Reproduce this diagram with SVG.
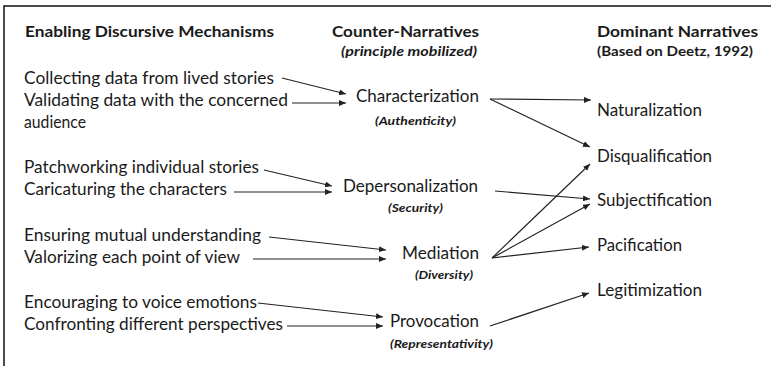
<svg xmlns="http://www.w3.org/2000/svg" width="771" height="366" viewBox="0 0 771 366">
<style>
text{font-family:Lato,"Open Sans","Liberation Sans",sans-serif;fill:#1a1a1a}
.h{font-size:16px;font-weight:bold}
.sh{font-size:13px;font-weight:bold}
.shi{font-size:13px;font-weight:bold;font-style:italic}
.t{font-size:16.5px}
.p{font-size:12px;font-weight:bold;font-style:italic}
.c{stroke:#222;stroke-width:1.2;fill:none;marker-end:url(#ah)}
.frame{stroke:#111;stroke-width:1.5;fill:none}
</style>
<defs>
<marker id="ah" markerUnits="userSpaceOnUse" markerWidth="8" markerHeight="6" refX="7" refY="3" orient="auto">
<path d="M0,0 L7,3 L0,6 z" fill="#222"/>
</marker>
</defs>
<rect width="771" height="366" fill="#fff"/>
<path class="frame" d="M4,366 V6 H771"/>
<g id="headers">
<text class="h" x="25" y="37" textLength="249" lengthAdjust="spacingAndGlyphs">Enabling Discursive Mechanisms</text>
<text class="h" x="332" y="37" textLength="147" lengthAdjust="spacingAndGlyphs">Counter-Narratives</text>
<text class="shi" x="341" y="56" textLength="136" lengthAdjust="spacingAndGlyphs">(principle mobilized)</text>
<text class="h" x="597" y="37" textLength="161" lengthAdjust="spacingAndGlyphs">Dominant Narratives</text>
<text class="sh" x="597" y="56" textLength="156" lengthAdjust="spacingAndGlyphs">(Based on Deetz, 1992)</text>
</g>
<g id="mech-collecting"><text class="t" x="24" y="84" textLength="250" lengthAdjust="spacingAndGlyphs">Collecting data from lived stories</text></g>
<g id="mech-validating"><text class="t" x="24" y="106" textLength="264" lengthAdjust="spacingAndGlyphs">Validating data with the concerned</text><text class="t" x="24" y="128" textLength="62" lengthAdjust="spacingAndGlyphs">audience</text></g>
<g id="mech-patchworking"><text class="t" x="24" y="173" textLength="235" lengthAdjust="spacingAndGlyphs">Patchworking individual stories</text></g>
<g id="mech-caricaturing"><text class="t" x="24" y="195" textLength="203" lengthAdjust="spacingAndGlyphs">Caricaturing the characters</text></g>
<g id="mech-ensuring"><text class="t" x="24" y="241" textLength="237" lengthAdjust="spacingAndGlyphs">Ensuring mutual understanding</text></g>
<g id="mech-valorizing"><text class="t" x="24" y="263" textLength="216" lengthAdjust="spacingAndGlyphs">Valorizing each point of view</text></g>
<g id="mech-encouraging"><text class="t" x="24" y="308" textLength="233" lengthAdjust="spacingAndGlyphs">Encouraging to voice emotions</text></g>
<g id="mech-confronting"><text class="t" x="24" y="330" textLength="259" lengthAdjust="spacingAndGlyphs">Confronting different perspectives</text></g>
<g id="cn-characterization"><text class="t" x="356" y="102" textLength="123" lengthAdjust="spacingAndGlyphs">Characterization</text><text class="p" x="375" y="125" textLength="81" lengthAdjust="spacingAndGlyphs">(Authenticity)</text></g>
<g id="cn-depersonalization"><text class="t" x="343" y="192" textLength="135" lengthAdjust="spacingAndGlyphs">Depersonalization</text><text class="p" x="388" y="212" textLength="55" lengthAdjust="spacingAndGlyphs">(Security)</text></g>
<g id="cn-mediation"><text class="t" x="402" y="259" textLength="77" lengthAdjust="spacingAndGlyphs">Mediation</text><text class="p" x="415" y="279" textLength="58" lengthAdjust="spacingAndGlyphs">(Diversity)</text></g>
<g id="cn-provocation"><text class="t" x="390" y="327" textLength="89" lengthAdjust="spacingAndGlyphs">Provocation</text><text class="p" x="390" y="348" textLength="103" lengthAdjust="spacingAndGlyphs">(Representativity)</text></g>
<g id="dn-naturalization"><text class="t" x="597" y="116" textLength="105" lengthAdjust="spacingAndGlyphs">Naturalization</text></g>
<g id="dn-disqualification"><text class="t" x="597" y="162" textLength="115" lengthAdjust="spacingAndGlyphs">Disqualification</text></g>
<g id="dn-subjectification"><text class="t" x="597" y="206" textLength="115" lengthAdjust="spacingAndGlyphs">Subjectification</text></g>
<g id="dn-pacification"><text class="t" x="597" y="251" textLength="85" lengthAdjust="spacingAndGlyphs">Pacification</text></g>
<g id="dn-legitimization"><text class="t" x="597" y="296" textLength="105" lengthAdjust="spacingAndGlyphs">Legitimization</text></g>
<g id="connectors">
<line class="c" x1="282" y1="78" x2="346" y2="94"/>
<line class="c" x1="292" y1="103" x2="346" y2="103"/>
<line class="c" x1="264" y1="170" x2="332" y2="186"/>
<line class="c" x1="234" y1="192" x2="332" y2="192"/>
<line class="c" x1="269" y1="237" x2="386" y2="250"/>
<line class="c" x1="253" y1="259" x2="386" y2="259"/>
<line class="c" x1="258" y1="303" x2="383" y2="317"/>
<line class="c" x1="287" y1="326" x2="383" y2="326"/>
<line class="c" x1="490" y1="99" x2="591" y2="100"/>
<line class="c" x1="490" y1="99" x2="590" y2="147"/>
<line class="c" x1="495" y1="191" x2="590" y2="199"/>
<line class="c" x1="492" y1="258" x2="590" y2="164"/>
<line class="c" x1="492" y1="258" x2="590" y2="204"/>
<line class="c" x1="492" y1="258" x2="589" y2="247"/>
<line class="c" x1="490" y1="326" x2="589" y2="293"/>
</g>
</svg>
